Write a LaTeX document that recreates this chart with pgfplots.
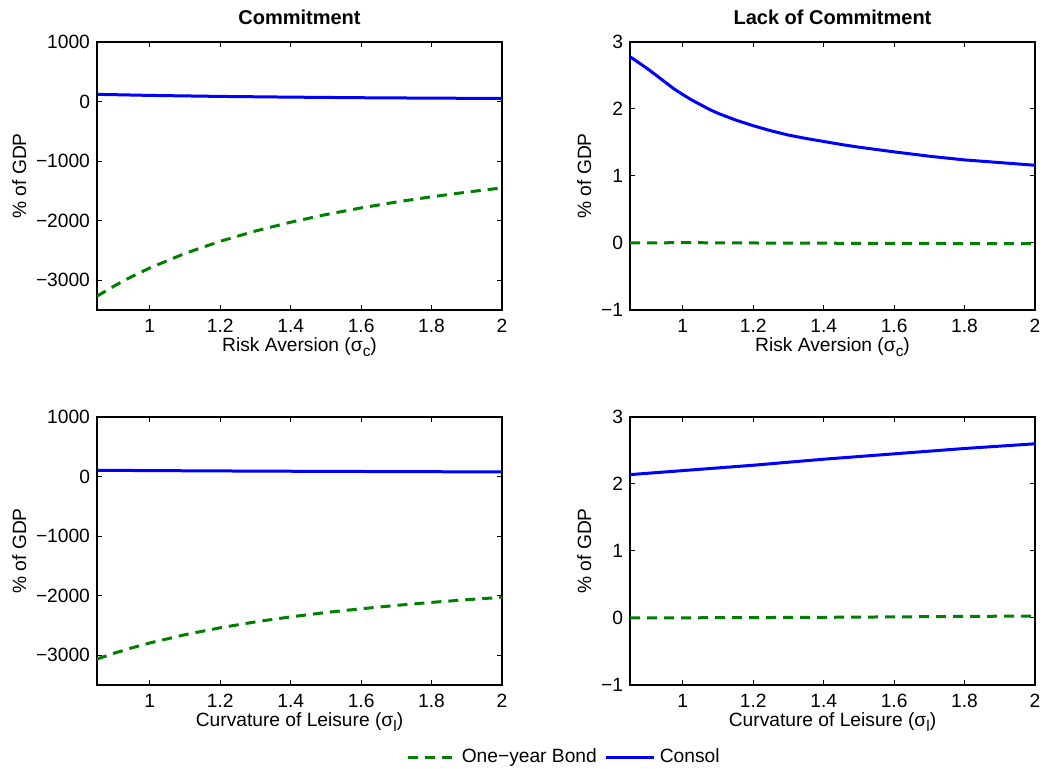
\documentclass[border=0pt]{standalone}
\usepackage{fontspec}
\setmainfont{Liberation Sans}
\usepackage{pgfplots}
\pgfplotsset{compat=1.18}
\definecolor{mgreen}{rgb}{0,0.5,0}
\definecolor{mblue}{rgb}{0,0,1}
\newcommand{\sub}[1]{\raisebox{-0.55ex}{\fontsize{7.7}{8}\selectfont #1}}
\pgfplotsset{
  mstyle/.style={
    scale only axis, width=202.5pt, height=134pt,
    xmin=0.85, xmax=2,
    xtick={1,1.2,1.4,1.6,1.8,2},
    xticklabels={1,1.2,1.4,1.6,1.8,2},
    tick pos=both, tick align=inside, major tick length=2.5pt,
    axis line style={line width=0.6pt}, every tick/.style={line width=0.5pt, black},
    ylabel={\% of GDP},
    ylabel style={yshift=-2pt},
    xticklabel style={yshift=-1pt},
    xlabel style={yshift=4.5pt},
    title style={font=\bfseries, yshift=-1pt},
    clip=true,
    /pgf/number format/assume math mode=true,
    legend style={draw=none, fill=none},
    legend image code/.code={\draw[#1] (0pt,0pt) -- (24pt,0pt);},
  },
  bond/.style={mgreen, line width=1.5pt, dash pattern=on 5pt off 3.5pt},
  consol/.style={mblue, line width=1.5pt, line join=round},
  lcom/.style={ymin=-3500, ymax=1000, ytick={-3000,-2000,-1000,0,1000},
    yticklabels={−3000,−2000,−1000,0,1000}},
  rcom/.style={ymin=-1, ymax=3, ytick={-1,0,1,2,3},
    yticklabels={−1,0,1,2,3}},
}
\begin{document}
\begin{tikzpicture}[font=\fontsize{9.6}{11}\selectfont]
\useasboundingbox (0,0) rectangle (521.5pt,384.5pt);
% top-left
\begin{axis}[mstyle, lcom, at={(48.5pt,229.5pt)}, anchor=south west,
  title={Commitment}, xlabel={Risk Aversion (σ\sub{c})}]
\addplot[bond] coordinates {(0.85,-3268) (0.9,-3093) (0.95,-2936) (1.0,-2794) (1.1,-2550) (1.2,-2346) (1.3,-2174) (1.4,-2026) (1.5,-1898) (1.6,-1786) (1.7,-1687) (1.8,-1599) (1.9,-1521) (2.0,-1450)};
\addplot[consol] coordinates {(0.85,121) (1.0,103) (1.2,86) (1.4,74) (1.6,64) (1.8,57) (2.0,52)};
\end{axis}
% top-right
\begin{axis}[mstyle, rcom, at={(315pt,229.5pt)}, anchor=south west,
  title={Lack of Commitment}, xlabel={Risk Aversion (σ\sub{c})}]
\addplot[bond] coordinates {(0.85,0.0) (1.0,0.005) (1.2,0.0) (1.5,-0.005) (2.0,-0.01)};
\addplot[consol] coordinates {(0.85,2.78) (0.875,2.69) (0.9,2.60) (0.925,2.50) (0.95,2.40) (0.975,2.30) (1.0,2.215) (1.025,2.135) (1.05,2.065) (1.075,1.995) (1.1,1.935) (1.15,1.835) (1.2,1.75) (1.25,1.675) (1.3,1.61) (1.35,1.56) (1.4,1.515) (1.45,1.47) (1.5,1.43) (1.55,1.395) (1.6,1.36) (1.7,1.295) (1.8,1.24) (1.9,1.20) (2.0,1.16)};
\end{axis}
% bottom-left
\begin{axis}[mstyle, lcom, at={(48.5pt,42pt)}, anchor=south west,
  xlabel={Curvature of Leisure (σ\sub{l})},
  legend columns=-1,
  legend style={at={(1.156,-0.27)}, anchor=center, /tikz/every even column/.append style={column sep=2pt}},
  legend cell align=left]
\addplot[bond] coordinates {(0.85,-3064) (0.9,-2964) (0.95,-2875) (1.0,-2794) (1.1,-2655) (1.2,-2539) (1.3,-2440) (1.4,-2356) (1.5,-2283) (1.6,-2220) (1.7,-2163) (1.8,-2113) (1.9,-2068) (2.0,-2028)};
\addlegendentry{One−year Bond}
\addplot[consol] coordinates {(0.85,105) (1.0,100) (1.2,94) (1.4,89) (1.6,85) (1.8,81) (2.0,78)};
\addlegendentry{Consol}
\end{axis}
% bottom-right
\begin{axis}[mstyle, rcom, at={(315pt,42pt)}, anchor=south west,
  xlabel={Curvature of Leisure (σ\sub{l})}]
\addplot[bond] coordinates {(0.85,0.0) (1.4,0.01) (2.0,0.03)};
\addplot[consol] coordinates {(0.85,2.14) (1.0,2.20) (1.2,2.28) (1.4,2.37) (1.6,2.45) (1.8,2.53) (2.0,2.60)};
\end{axis}
\end{tikzpicture}
\end{document}
